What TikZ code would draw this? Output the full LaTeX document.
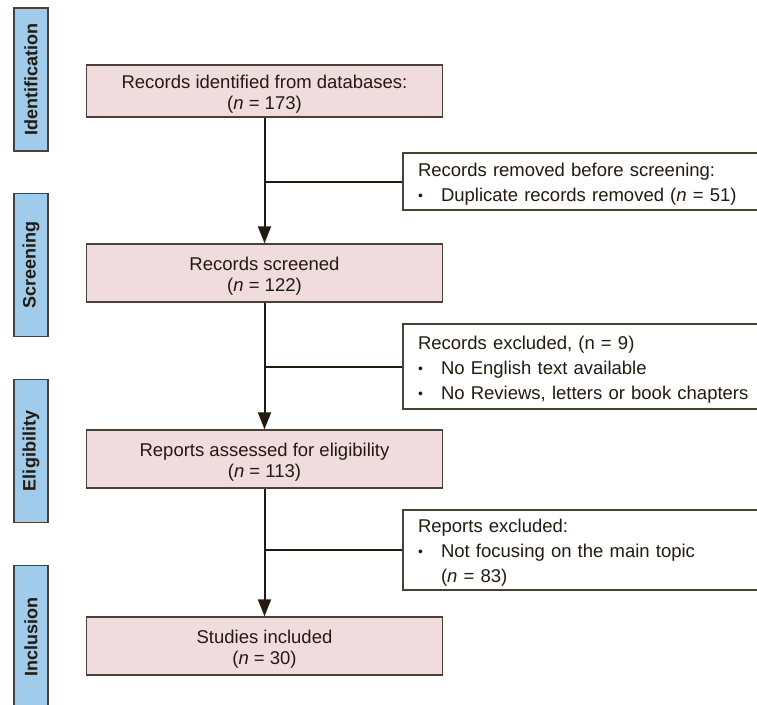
\documentclass[tikz,border=0pt]{standalone}
\usepackage{fontspec}
\setmainfont{Liberation Sans}
\usetikzlibrary{arrows.meta}
\definecolor{pinkfill}{HTML}{F0DCDE}
\definecolor{bluefill}{HTML}{A0CBEB}
\definecolor{boxline}{HTML}{4A4036}
\definecolor{conn}{HTML}{231A10}
\tikzset{
  mainbox/.style={draw=boxline, line width=1.4pt, fill=pinkfill, minimum width=356pt, minimum height=58pt, align=center, font=\fontsize{18.5}{21}\selectfont, text=conn, inner sep=0pt},
  sidebox/.style={draw=boxline, line width=1.4pt, fill=white, minimum width=367pt, text width=337pt, inner xsep=15pt, inner ysep=0pt, align=left, font=\fontsize{18.5}{25}\selectfont, text=conn, execute at begin node={\rule{0pt}{19.5pt}}},
  phase/.style={draw=boxline, line width=1.4pt, fill=bluefill, minimum width=143pt, minimum height=34pt, rotate=90, font=\fontsize{18}{20}\selectfont\bfseries, text=conn, inner sep=0pt},
  conline/.style={draw=conn, line width=2pt},
  arr/.style={conline, -{Triangle[length=17pt,width=13pt]}}
}
\newcommand{\bul}{\makebox[23pt][l]{\raisebox{1pt}{\scalebox{0.75}{\textbullet}}}}
\newcommand{\topstrut}{\rule{0pt}{20pt}}
\begin{document}
\begin{tikzpicture}[x=1pt,y=-1pt]
\useasboundingbox (0,0) rectangle (757,704);
\clip (0,0) rectangle (757,704);
% phase labels
\node[phase] (p1) at (31,79.5) {Identification};
\node[phase] (p2) at (31,265) {Screening};
\node[phase] (p3) at (31,451) {Eligibility};
\node[phase] (p4) at (31,637) {Inclusion};
% main boxes
\node[mainbox, minimum height=52pt] (b1) at (264.5,91) {\topstrut Records identified from databases:\\(\textit{n} = 173)};
\node[mainbox] (b2) at (264.5,273) {\topstrut Records screened\\(\textit{n} = 122)};
\node[mainbox] (b3) at (264.5,459) {\topstrut Reports assessed for eligibility\\(\textit{n} = 113)};
\node[mainbox] (b4) at (264.5,646) {\topstrut Studies included\\(\textit{n} = 30)};
% side boxes
\node[sidebox, minimum height=57pt] (s1) at (586.5,181.5) {Records removed before screening:\\\bul Duplicate records removed (\textit{n} = 51)};
\node[sidebox, minimum height=85pt] (s2) at (586.5,366.5) {Records excluded, (n = 9)\\\bul No English text available\\\bul No Reviews, letters or book chapters};
\node[sidebox, minimum height=80pt] (s3) at (586.5,550) {Reports excluded:\\\bul Not focusing on the main topic\\\hspace*{23pt}(\textit{n} = 83)};
% connectors
\draw[arr] (b1) -- (b2);
\draw[arr] (b2) -- (b3);
\draw[arr] (b3) -- (b4);
\draw[conline] (b1.south |- s1.west) -- (s1.west);
\draw[conline] (b2.south |- s2.west) -- (s2.west);
\draw[conline] (b3.south |- s3.west) -- (s3.west);
\end{tikzpicture}
\end{document}
